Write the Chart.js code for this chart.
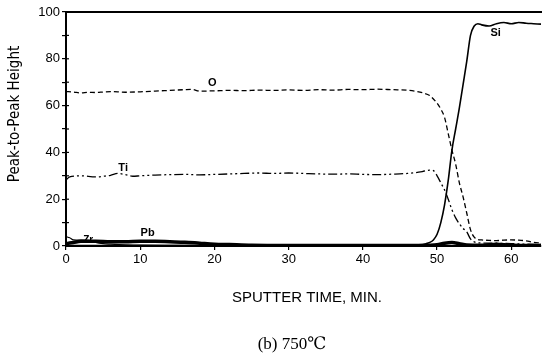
<!DOCTYPE html>
<html>
<head>
<meta charset="utf-8">
<script src="https://cdn.jsdelivr.net/npm/chart.js@4/dist/chart.umd.min.js"></script>
<style>
  html, body { margin: 0; padding: 0; background: #fff; }
  #wrap { width: 542px; height: 354px; position: relative; }
</style>
</head>
<body>
<div id="wrap"><canvas id="c" width="542" height="354"></canvas></div>
<script>
// Auger depth profile, sputter time in minutes vs peak-to-peak height
const oTime = [0,1,2,3,4,5,6,8,10,12,14,16,17,18,20,22,24,26,28,30,32,34,36,38,40,42,44,46,47,48,49,50,50.5,51,51.5,52,52.5,53,53.5,54,54.5,55,55.5,56,57,58,59,60,61,62,63,64];
const oVal  = [66,65.8,65.4,65.7,65.6,65.8,66,65.7,65.9,66.2,66.5,66.8,66.9,66.2,66.3,66.5,66.4,66.6,66.5,66.7,66.5,66.8,66.6,66.9,66.8,67,66.8,66.6,66.2,65.5,64.3,61,58.5,55,48,41,35,27,21,14,7,3.8,2.8,2.6,2.4,2.3,2.5,2.6,2.5,2.2,1.6,1.2];

const tiTime = [0,0.5,2,4,5,6,7,8,9,10,12,14,16,18,20,22,24,26,28,30,32,34,36,38,40,42,44,46,47,48,49,49.5,50,50.5,51,51.5,52,52.5,53,53.5,54,54.5,55,56,58,60,62,64];
const tiVal  = [28.3,29.5,30,29.5,29.8,30.2,31,30.5,29.8,30,30.3,30.5,30.6,30.4,30.6,30.8,31,31.2,31,31.2,31,30.8,30.7,30.8,30.6,30.5,30.7,31,31.3,31.8,32.4,32.2,30,27,24,20,15.5,12,9.5,7.5,6,3,1.8,1.3,1.2,1,0.8,0.7];

const siTime = [0,10,20,30,40,46,47.5,48.5,49,49.5,50,50.5,51,51.5,52,52.5,53,53.5,54,54.5,55,55.5,56,57,58,59,60,61,62,63,64];
const siVal  = [0.2,0.2,0.2,0.2,0.3,0.3,0.5,1,1.5,2.6,5,10,17.5,28,41,50,59,69,79,90,94,95,94.5,94,95,95.5,95,95.5,95.2,95,94.8];

const pbTime = [0,1,2,4,6,8,10,12,14,16,18,20,22,25,30,40,48,50,51,52,53,54,56,58,60,64];
const pbVal  = [1,1.5,2,2,1.8,1.8,2,2,1.8,1.6,1.2,0.8,0.6,0.3,0.2,0.2,0.2,0.5,1.2,1.5,1,0.4,0.3,0.8,0.3,0.2];

const zrTime = [0,0.5,1,2,3,4,5,6,8,10,15,20,30];
const zrVal  = [4,3.5,2.6,2.5,2.4,1.5,1,0.8,0.5,0.4,0.3,0.2,0.1];

const xTicks = [0,10,20,30,40,50,60];
const yTicks = [0,20,40,60,80,100];

// element labels placed next to their curves: [text, time, height]
const curveLabels = [
  ['O', 19.7, 69.5],
  ['Ti', 7.7, 33.3],
  ['Pb', 11, 5.5],
  ['Zr', 3, 2.6],
  ['Si', 57.9, 91]
];

const pts = (t, v) => t.map((x, i) => ({ x, y: v[i] }));

const line = (label, t, v, opts) => Object.assign({
  label, data: pts(t, v), borderColor: '#000', backgroundColor: '#000',
  borderWidth: 1.2, pointRadius: 0, cubicInterpolationMode: 'monotone', fill: false
}, opts);

const decor = {
  id: 'decor',
  afterDraw(chart) {
    const { ctx, chartArea, scales } = chart;
    ctx.save();
    // top frame line
    ctx.strokeStyle = '#000';
    ctx.lineWidth = 2;
    ctx.beginPath();
    ctx.moveTo(chartArea.left, chartArea.top);
    ctx.lineTo(chartArea.right + 1, chartArea.top);
    ctx.stroke();
    // inner halves of the y tick marks
    ctx.lineWidth = 1.2;
    for (let v = 10; v < 100; v += 10) {
      const y = scales.y.getPixelForValue(v);
      ctx.beginPath();
      ctx.moveTo(chartArea.left, y);
      ctx.lineTo(chartArea.left + 3, y);
      ctx.stroke();
    }
    // curve labels
    ctx.fillStyle = '#000';
    ctx.textAlign = 'center';
    ctx.textBaseline = 'middle';
    curveLabels.forEach(([txt, t, v]) => {
      ctx.font = txt === 'Zr' ? 'bold 10px "Liberation Sans", Arial, sans-serif'
                              : 'bold 11px "Liberation Sans", Arial, sans-serif';
      ctx.fillText(txt, scales.x.getPixelForValue(t), scales.y.getPixelForValue(v));
    });
    // y axis title
    ctx.save();
    ctx.translate(15, 114);
    ctx.rotate(-Math.PI / 2);
    ctx.font = '15px "Liberation Sans Narrow", "DejaVu Sans Condensed", sans-serif';
    ctx.fillText('Peak-to-Peak Height', 0, 0);
    ctx.restore();
    // x axis title and caption
    ctx.font = '15px "Liberation Sans", Arial, sans-serif';
    ctx.fillText('SPUTTER TIME, MIN.', 307, 298);
    ctx.font = '17px "Liberation Serif", "DejaVu Serif", serif';
    ctx.fillText('(b) 750\u2103', 292, 345);
    ctx.restore();
  }
};

new Chart(document.getElementById('c'), {
  type: 'line',
  data: {
    datasets: [
      line('O', oTime, oVal, { borderDash: [5, 3], borderWidth: 1.3 }),
      line('Ti', tiTime, tiVal, { borderDash: [9, 3, 2, 3, 2, 3], borderWidth: 1.3 }),
      line('Si', siTime, siVal, { borderWidth: 1.6 }),
      line('Pb', pbTime, pbVal, { borderWidth: 3.5 }),
      line('Zr', zrTime, zrVal, { borderWidth: 1.2 })
    ]
  },
  options: {
    responsive: false,
    animation: false,
    layout: { padding: { top: 12, right: 1, left: 0, bottom: 0 } },
    plugins: { legend: { display: false }, tooltip: { enabled: false } },
    scales: {
      x: {
        type: 'linear', min: 0, max: 64,
        afterFit(s) { s.height = 108; },
        afterBuildTicks(s) { s.ticks = xTicks.map(v => ({ value: v })); },
        grid: { drawOnChartArea: false, color: '#000', tickLength: 4, lineWidth: 1.2 },
        border: { color: '#000', width: 2 },
        ticks: { color: '#000', padding: 2, maxRotation: 0,
                 font: { family: '"Liberation Sans", Arial, sans-serif', size: 13 } }
      },
      y: {
        min: 0, max: 100,
        afterFit(s) { s.width = 66; },
        ticks: { stepSize: 10, color: '#000', padding: 2,
                 callback: v => (yTicks.includes(v) ? String(v) : ''),
                 font: { family: '"Liberation Sans", Arial, sans-serif', size: 13 } },
        grid: { drawOnChartArea: false, color: '#000', tickLength: 4, lineWidth: 1.2 },
        border: { color: '#000', width: 2 }
      }
    }
  },
  plugins: [decor]
});
</script>
</body>
</html>
